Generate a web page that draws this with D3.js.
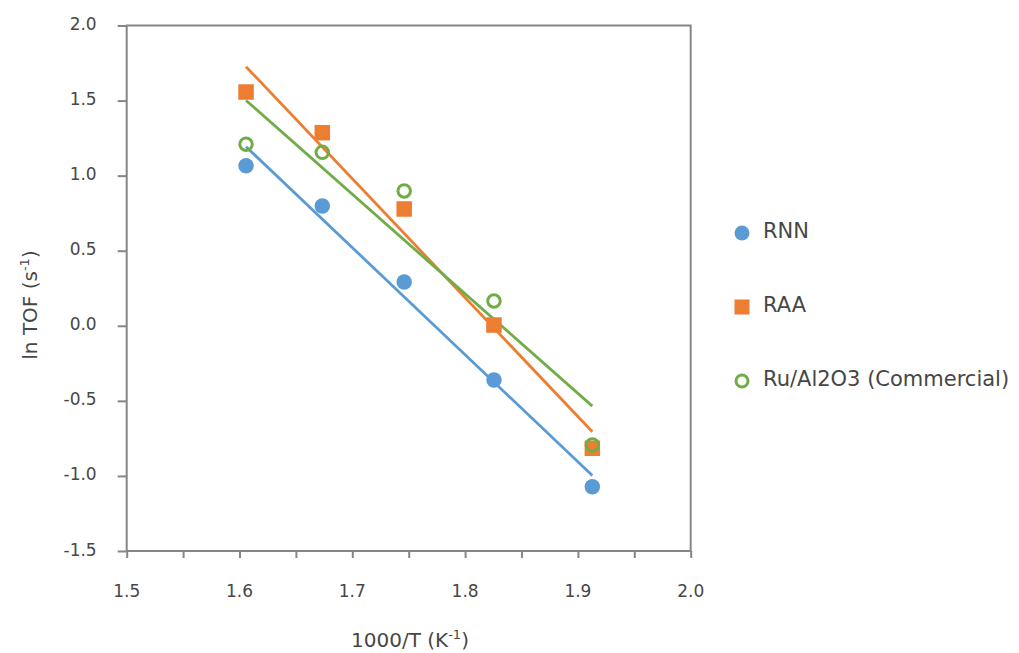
<!DOCTYPE html>
<html>
<head>
<meta charset="utf-8">
<script src="https://cdn.jsdelivr.net/npm/d3@7"></script>
<style>
  html, body { margin: 0; padding: 0; background: #fff; }
  svg { display: block; font-family: "DejaVu Sans", "Noto Sans", sans-serif; }
</style>
</head>
<body>
<svg id="chart" width="1019" height="653"></svg>
<script>
// Inverse temperature (1000/T, K^-1) for each measurement
const invT = [1.6058, 1.6734, 1.746, 1.8256, 1.9128];

// ln TOF (s^-1) per catalyst
const seriesNames = ["RNN", "RAA", "Ru/Al2O3 (Commercial)"];
const rnnValues = [1.066, 0.798, 0.292, -0.361, -1.072];
const raaValues = [1.557, 1.286, 0.778, 0.005, -0.816];
const ruAl2O3Values = [1.209, 1.155, 0.898, 0.165, -0.794];

const xTicks = [1.5, 1.6, 1.7, 1.8, 1.9, 2.0];
const yTicks = [-1.5, -1.0, -0.5, 0.0, 0.5, 1.0, 1.5, 2.0];

const colors = ["#5B9BD5", "#ED7D31", "#70AD47"];
const symbols = ["dot", "square", "ring"];

const series = [rnnValues, raaValues, ruAl2O3Values].map((vals, i) => ({
  name: seriesNames[i],
  color: colors[i],
  symbol: symbols[i],
  points: vals.map((v, j) => ({ x: invT[j], y: v }))
}));

const svg = d3.select("#chart");
const plotLeft = 126.7, plotRight = 690.7, plotTop = 25.5, plotBottom = 551;

const x = d3.scaleLinear().domain([1.5, 2.0]).range([plotLeft, plotRight]);
const y = d3.scaleLinear().domain([-1.5, 2.0]).range([plotBottom, plotTop]);

const axisColor = "#868686";
const textColor = "#474747";

// Plot frame
svg.append("rect")
  .attr("x", plotLeft).attr("y", plotTop)
  .attr("width", plotRight - plotLeft).attr("height", plotBottom - plotTop)
  .attr("fill", "none").attr("stroke", axisColor).attr("stroke-width", 2);

// X axis with minor ticks between labelled ones
const xMinor = d3.range(1.5, 2.0001, 0.05);
const xAxisG = svg.append("g").attr("transform", `translate(0,${plotBottom})`);
xAxisG.call(d3.axisBottom(x).tickValues(xMinor).tickSize(7).tickFormat(""));
xAxisG.selectAll(".domain").remove();
xAxisG.selectAll(".tick line").attr("stroke", axisColor).attr("stroke-width", 2);
svg.append("g").selectAll("text").data(xTicks).join("text")
  .attr("x", d => x(d)).attr("y", plotBottom + 46)
  .attr("text-anchor", "middle")
  .attr("font-size", 17).attr("fill", textColor)
  .text(d => d3.format(".1f")(d));

// Y axis
const yAxisG = svg.append("g").attr("transform", `translate(${plotLeft},0)`);
yAxisG.call(d3.axisLeft(y).tickValues(yTicks).tickSize(9).tickFormat(""));
yAxisG.selectAll(".domain").remove();
yAxisG.selectAll(".tick line").attr("stroke", axisColor).attr("stroke-width", 2);
svg.append("g").selectAll("text").data(yTicks).join("text")
  .attr("x", plotLeft - 30).attr("y", d => y(d) + 4.5)
  .attr("text-anchor", "end")
  .attr("font-size", 17).attr("fill", textColor)
  .text(d => d3.format(".1f")(d).replace("−", "-"));

// Axis titles
const xTitle = svg.append("text")
  .attr("x", 410).attr("y", 647)
  .attr("text-anchor", "middle")
  .attr("font-size", 20).attr("fill", textColor);
xTitle.append("tspan").text("1000/T (K");
xTitle.append("tspan").attr("font-size", 13).attr("dy", -8).text("-1");
xTitle.append("tspan").attr("dy", 8).text(")");

const yTitle = svg.append("text")
  .attr("transform", `translate(37,305) rotate(-90)`)
  .attr("text-anchor", "middle")
  .attr("font-size", 20).attr("fill", textColor);
yTitle.append("tspan").text("ln TOF (s");
yTitle.append("tspan").attr("font-size", 13).attr("dy", -8).text("-1");
yTitle.append("tspan").attr("dy", 8).text(")");

// Least-squares trend line for each series
function fit(points) {
  const mx = d3.mean(points, p => p.x), my = d3.mean(points, p => p.y);
  const sxy = d3.sum(points, p => (p.x - mx) * (p.y - my));
  const sxx = d3.sum(points, p => (p.x - mx) ** 2);
  const slope = sxy / sxx;
  return xv => my + slope * (xv - mx);
}

const lineG = svg.append("g");
series.forEach(s => {
  const f = fit(s.points);
  const [x0, x1] = d3.extent(s.points, p => p.x);
  lineG.append("line")
    .attr("x1", x(x0)).attr("y1", y(f(x0)))
    .attr("x2", x(x1)).attr("y2", y(f(x1)))
    .attr("stroke", s.color).attr("stroke-width", 2.8);
});

// Markers
function drawMarker(g, symbol, color, cx, cy, size) {
  if (symbol === "dot") {
    g.append("circle").attr("cx", cx).attr("cy", cy).attr("r", size / 2).attr("fill", color);
  } else if (symbol === "square") {
    g.append("rect").attr("x", cx - size / 2).attr("y", cy - size / 2)
      .attr("width", size).attr("height", size).attr("fill", color);
  } else {
    g.append("circle").attr("cx", cx).attr("cy", cy).attr("r", size / 2 - 1.5)
      .attr("fill", "none").attr("stroke", color).attr("stroke-width", 3);
  }
}

const markG = svg.append("g");
series.forEach(s => {
  s.points.forEach(p => drawMarker(markG, s.symbol, s.color, x(p.x), y(p.y), 15.5));
});

// Legend
const legendY = [233, 307, 381];
const legG = svg.append("g");
series.forEach((s, i) => {
  const ly = legendY[i];
  drawMarker(legG, s.symbol, s.color, 742, ly, 15);
  legG.append("text").attr("x", 763).attr("y", ly + 5)
    .attr("font-size", 21).attr("fill", textColor).text(s.name);
});
</script>
</body>
</html>
